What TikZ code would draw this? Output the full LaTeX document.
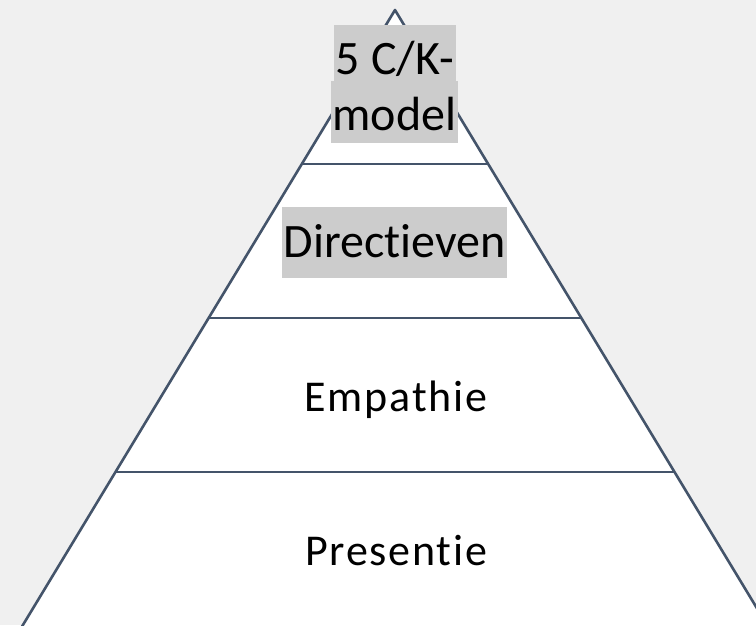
\documentclass[tikz,border=0pt]{standalone}
\usepackage{fontspec}
\setmainfont[Ligatures=NoCommon]{Carlito}
\newfontfamily\lightfont[LetterSpace=4,Ligatures=NoCommon]{Carlito}
\definecolor{bgc}{HTML}{F0F0F0}
\definecolor{edge}{HTML}{44546A}
\definecolor{hl}{HTML}{CCCCCC}
\begin{document}
\begin{tikzpicture}[x=1pt,y=-1pt,
  tier/.style={draw=edge,line width=2.6pt},
  hilite/.style={fill=hl,inner xsep=1.5pt,inner ysep=0pt,font=\fontsize{48}{56}\selectfont,anchor=base},
  plain/.style={inner sep=0pt,font=\lightfont\fontsize{44}{52}\selectfont,anchor=base}]
\useasboundingbox (0,0) rectangle (756,625);
\fill[bgc] (0,0) rectangle (756,625);
\begin{scope}
\clip (0,0) rectangle (756,625);
\coordinate (apex) at (395,10);
\coordinate (bl) at (21.7,627);
\coordinate (br) at (768.3,627);
\fill[white] (apex) -- (bl) -- (br) -- cycle;
\draw[tier,line join=round] (bl) -- (apex) -- (br);
\coordinate (l1) at (301.8,164); \coordinate (r1) at (488.2,164);
\coordinate (l2) at (208.7,318); \coordinate (r2) at (581.3,318);
\coordinate (l3) at (115.5,472); \coordinate (r3) at (674.5,472);
\draw[tier] (l1) -- (r1);
\draw[tier] (l2) -- (r2);
\draw[tier] (l3) -- (r3);
\end{scope}
\node[hilite,text height=49pt,text depth=7pt] (t1) at (395,74) {5 C/K-};
\node[hilite,text height=49pt,text depth=13pt] (t2) at (394.5,130) {model};
\node[hilite,text height=50pt,text depth=21pt] (t3) at (394.5,257) {Directieven};
\node[plain] (t4) at (396,411) {Empathie};
\node[plain] (t5) at (396,565) {Presentie};
\end{tikzpicture}
\end{document}
